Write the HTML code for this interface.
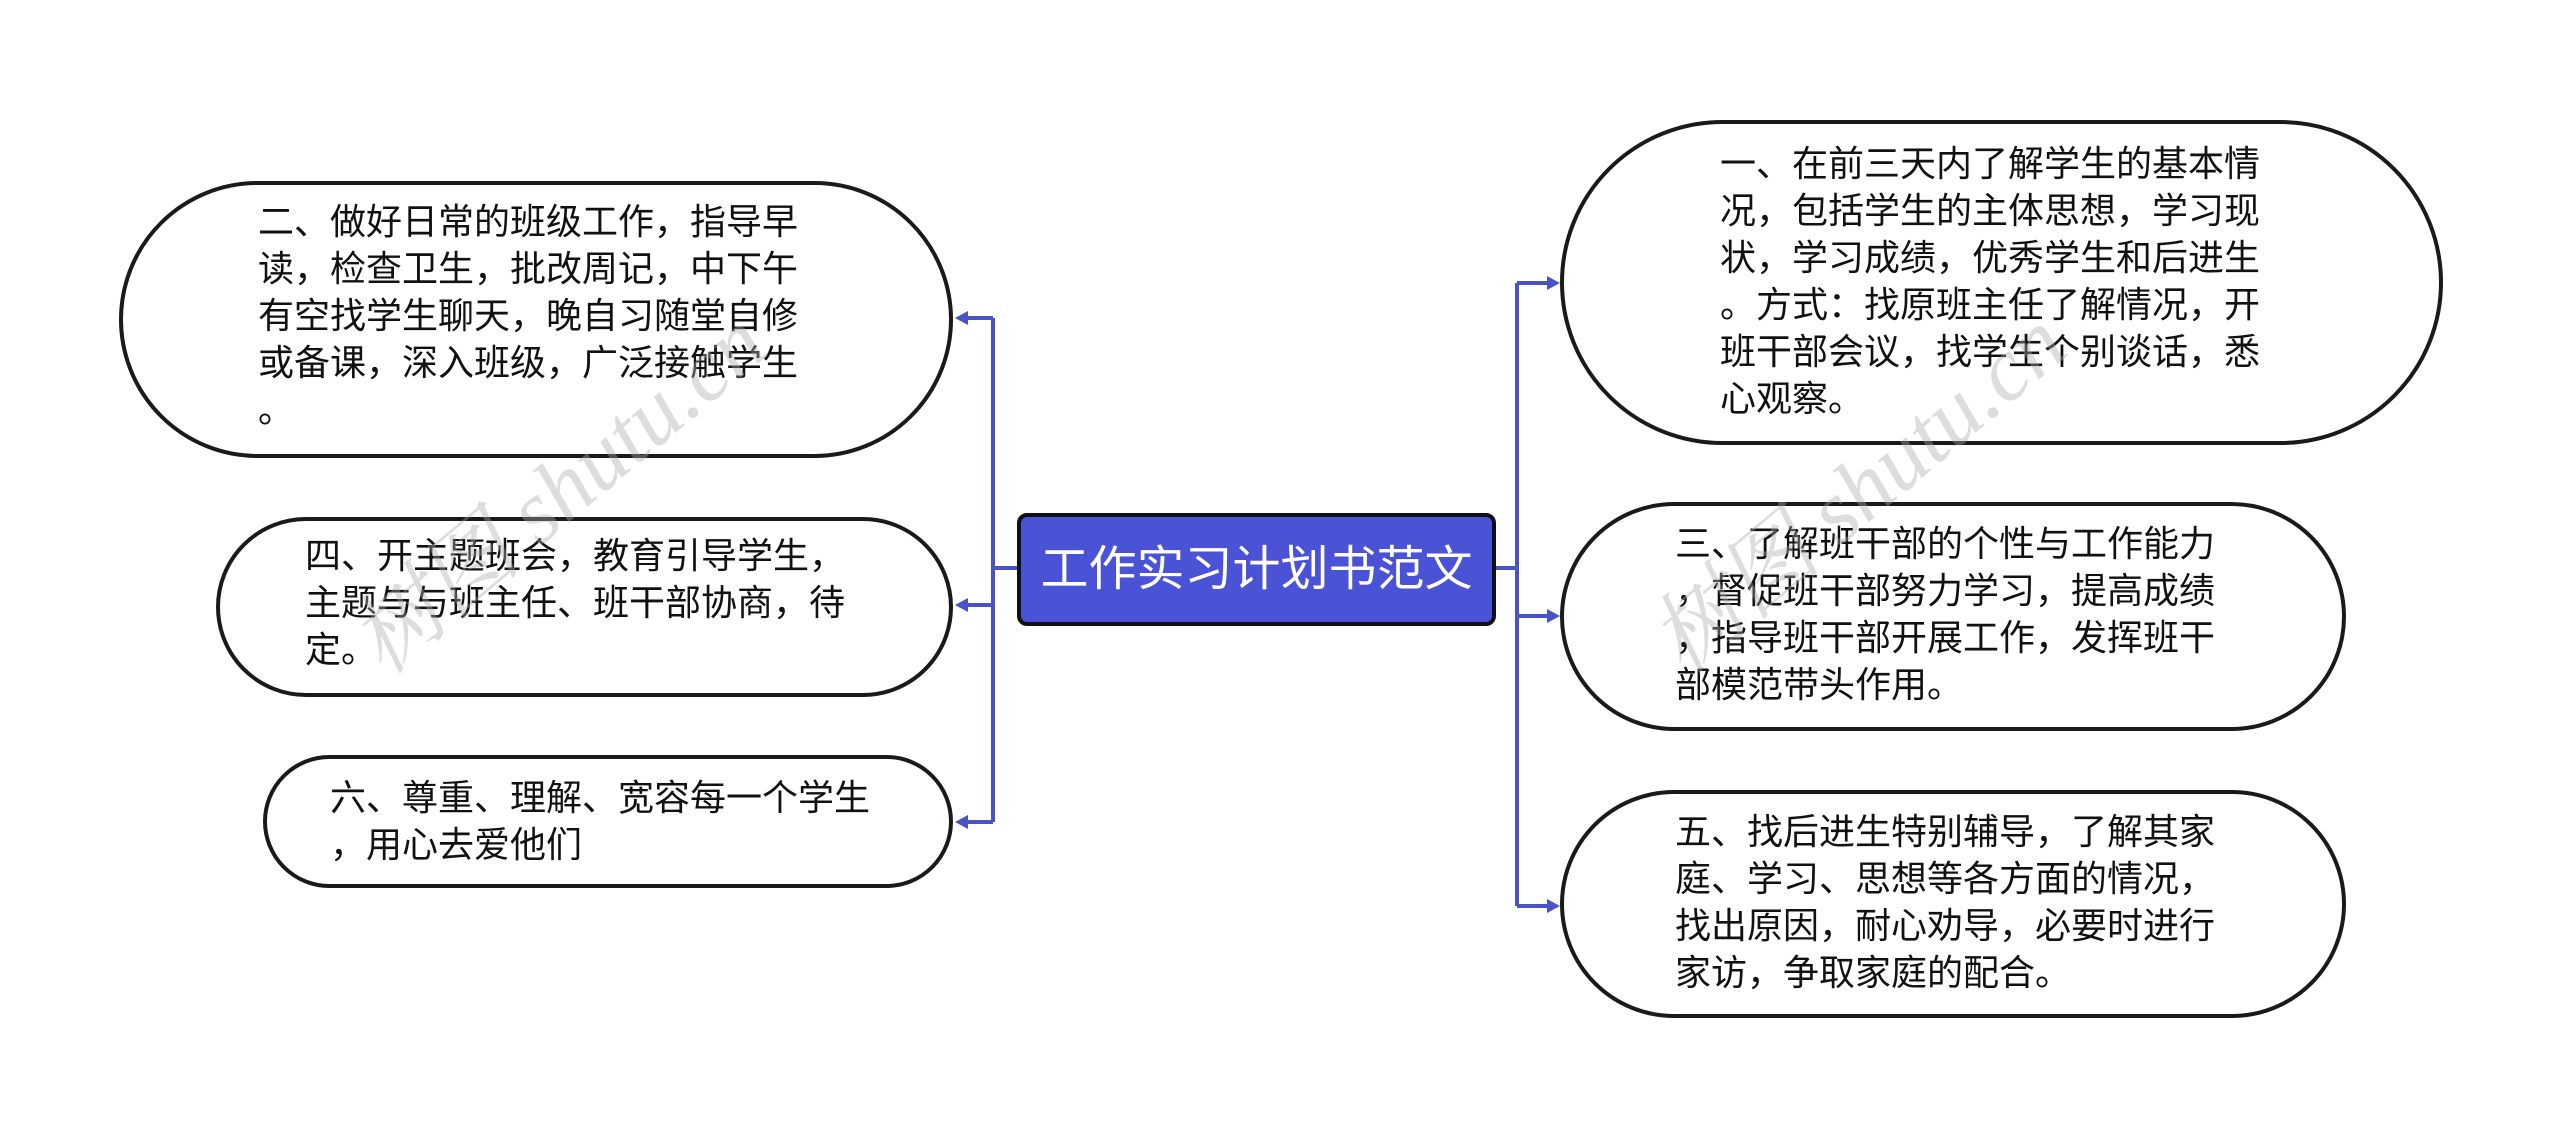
<!DOCTYPE html>
<html><head><meta charset="utf-8"><style>
html,body{margin:0;padding:0;background:#fff;}
body{width:2560px;height:1137px;position:relative;overflow:hidden;font-family:"Liberation Sans","Noto Sans CJK SC",sans-serif;}
.n{position:absolute;box-sizing:border-box;border:4px solid #1a1a1a;background:#fff;border-radius:200px;}
.t{position:absolute;font-size:36px;line-height:47px;color:#111;white-space:nowrap;}
.c{position:absolute;left:1017px;top:513px;width:479px;height:113px;box-sizing:border-box;background:#4a52d6;border:4px solid #111;border-radius:10px;color:#fff;font-size:48px;line-height:105px;text-align:center;}
.wm{position:absolute;font-size:90px;color:rgba(170,170,170,0.4);transform:rotate(-40deg);white-space:nowrap;font-family:"Liberation Serif","Noto Serif CJK SC",serif;font-style:italic;}
</style></head><body>
<svg width="2560" height="1137" style="position:absolute;left:0;top:0">
<g stroke="#4a52c8" stroke-width="4" fill="none">
<path d="M1017 568 H993 M993 318 V822 M993 318 H962 M993 605 H962 M993 822 H962"/>
<path d="M1496 568 H1517 M1517 283 V906 M1517 283 H1552 M1517 616 H1552 M1517 906 H1552"/>
</g>
<g fill="#4a52c8">
<polygon points="955,318 968,311 968,325"/>
<polygon points="955,605 968,598 968,612"/>
<polygon points="955,822 968,815 968,829"/>
<polygon points="1560,283 1547,276 1547,290"/>
<polygon points="1560,616 1547,609 1547,623"/>
<polygon points="1560,906 1547,899 1547,913"/>
</g>
</svg>
<div class="n" style="left:119px;top:181px;width:834px;height:277px;"></div>
<div class="t" style="left:258px;top:198px;">二、做好日常的班级工作，指导早<br>读，检查卫生，批改周记，中下午<br>有空找学生聊天，晚自习随堂自修<br>或备课，深入班级，广泛接触学生<br>。</div>
<div class="n" style="left:216px;top:517px;width:737px;height:180px;"></div>
<div class="t" style="left:305px;top:532px;">四、开主题班会，教育引导学生，<br>主题与与班主任、班干部协商，待<br>定。</div>
<div class="n" style="left:263px;top:755px;width:690px;height:133px;"></div>
<div class="t" style="left:330px;top:774px;">六、尊重、理解、宽容每一个学生<br>，用心去爱他们</div>
<div class="n" style="left:1560px;top:120px;width:883px;height:325px;"></div>
<div class="t" style="left:1720px;top:140px;">一、在前三天内了解学生的基本情<br>况，包括学生的主体思想，学习现<br>状，学习成绩，优秀学生和后进生<br>。方式：找原班主任了解情况，开<br>班干部会议，找学生个别谈话，悉<br>心观察。</div>
<div class="n" style="left:1560px;top:502px;width:786px;height:229px;"></div>
<div class="t" style="left:1675px;top:520px;">三、了解班干部的个性与工作能力<br>，督促班干部努力学习，提高成绩<br>，指导班干部开展工作，发挥班干<br>部模范带头作用。</div>
<div class="n" style="left:1560px;top:790px;width:786px;height:228px;"></div>
<div class="t" style="left:1675px;top:808px;">五、找后进生特别辅导，了解其家<br>庭、学习、思想等各方面的情况，<br>找出原因，耐心劝导，必要时进行<br>家访，争取家庭的配合。</div>
<div class="c">工作实习计划书范文</div>
<div class="wm" style="left:300px;top:420px;">树图 shutu.cn</div>
<div class="wm" style="left:1600px;top:420px;">树图 shutu.cn</div>
</body></html>
